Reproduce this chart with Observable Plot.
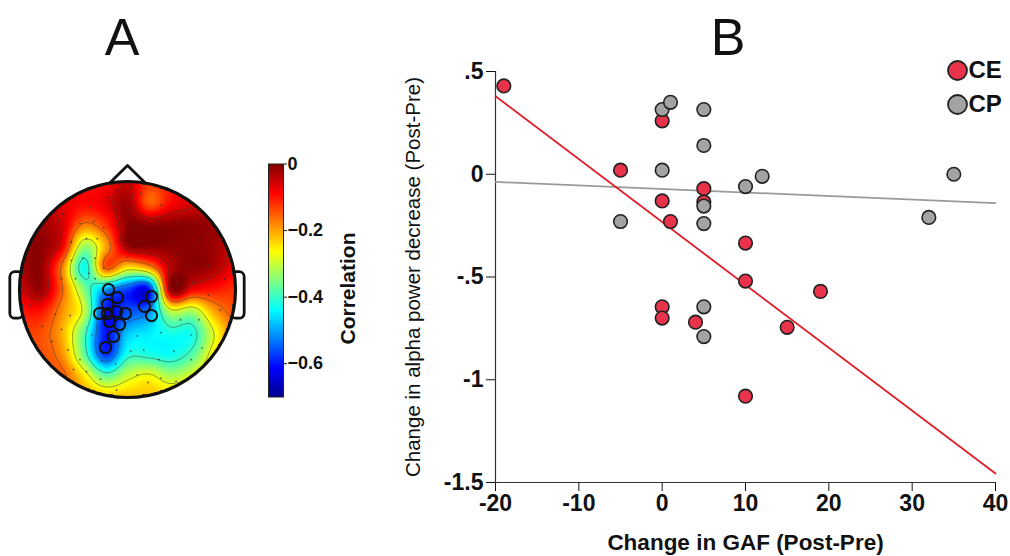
<!DOCTYPE html>
<html><head><meta charset="utf-8">
<script src="https://cdn.jsdelivr.net/npm/d3@7"></script>
<script src="https://cdn.jsdelivr.net/npm/@observablehq/plot@0.6"></script>
<style>
body{margin:0;background:#fff;}
#fig{position:relative;width:1010px;height:556px;overflow:hidden;font-family:"Liberation Sans",Arial,Helvetica,sans-serif;color:#111;}
.panel{position:absolute;}
.panel svg{overflow:visible;}
.tag{position:absolute;width:100px;text-align:center;font-size:52px;line-height:1;}
</style></head><body><div id="fig"></div>
<script>
// ---------- Panel B data ----------
const groups = ["CE", "CP"];
const ceGAF   = [-19, 0, -5, 5, 0, 5, 1, 10, 10, 19, 0, 0, 4, 15, 10];
const ceAlpha = [0.43, 0.26, 0.02, -0.07, -0.13, -0.135, -0.23, -0.335, -0.52, -0.57, -0.645, -0.70, -0.72, -0.745, -1.08];
const cpGAF   = [0, 1, 5, 5, 0, 5, 10, 12, -5, 5, 5, 5, 35, 32];
const cpAlpha = [0.315, 0.35, 0.315, 0.14, 0.02, -0.155, -0.06, -0.01, -0.23, -0.24, -0.645, -0.79, 0.0, -0.21];
const xDomain = [-20, 40];
const yDomain = [-1.5, 0.5];
const xTicks = [-20, -10, 0, 10, 20, 30, 40];
const yTicks = [-1.5, -1, -0.5, 0, 0.5];

// ---------- Panel A data (correlation map sampled on an 11x11 grid, rows top->bottom, cols left->right) ----------
const topoRows = [
 [-0.08,-0.08,-0.08,-0.10,-0.09,-0.05,-0.12,-0.10,-0.08,-0.07,-0.07],
 [-0.05,-0.05,-0.07,-0.09,-0.07,-0.02,-0.15,-0.09,-0.06,-0.05,-0.05],
 [-0.02,-0.02,-0.06,-0.17,-0.12,-0.01,-0.01,-0.01,-0.01,-0.02,-0.05],
 [-0.02,-0.01,-0.08,-0.33,-0.20,-0.02,-0.005,-0.01,-0.01,-0.02,-0.06],
 [-0.03,-0.015,-0.18,-0.43,-0.15,-0.25,-0.20,-0.04,-0.01,-0.03,-0.08],
 [-0.06,-0.02,-0.16,-0.35,-0.50,-0.57,-0.60,-0.02,-0.08,-0.10,-0.12],
 [-0.10,-0.10,-0.19,-0.30,-0.60,-0.56,-0.52,-0.30,-0.32,-0.20,-0.14],
 [-0.13,-0.14,-0.21,-0.38,-0.60,-0.48,-0.45,-0.42,-0.42,-0.28,-0.17],
 [-0.14,-0.14,-0.19,-0.37,-0.58,-0.42,-0.42,-0.43,-0.38,-0.25,-0.17],
 [-0.15,-0.15,-0.15,-0.25,-0.37,-0.30,-0.27,-0.32,-0.28,-0.20,-0.17],
 [-0.17,-0.17,-0.17,-0.20,-0.22,-0.22,-0.22,-0.22,-0.20,-0.17,-0.17]
];
const contourLevels = [-0.52, -0.40, -0.28, -0.16, -0.05];
const colorTicks = [0, -0.2, -0.4, -0.6];
const colorDomain = [-0.7, 0];
// electrode positions (head units, nose up)
const elecU = [-0.18,-0.34,-0.44,-0.31,-0.22,-0.38,-0.28,-0.52,-0.41,-0.52,-0.30,-0.22,-0.61,-0.36,-0.48,-0.30,
  0.12,0.31,0.11,0.28,0.15,0.60,0.90,
  -0.67,-0.53,-0.79,-0.61,-0.33,-0.70,-0.55,-0.44,-0.24,-0.11,-0.50,-0.38,-0.25,-0.10,
  0.09,0.31,0.49,0.66,0.86,0.03,0.15,0.43,0.59,0.69,0.29,0.59,0.09,0.31,0.19,
  0.48,0.66,0.45,0.75,0.30,0.00,0.02,-0.80,-0.80,-0.90,0.45,0.75,0.45,-0.60,0.70];
const elecV = [0.85,0.76,0.61,0.63,0.57,0.47,0.47,0.44,0.29,0.27,0.29,0.20,0.10,0.15,0.10,0.10,
  0.89,0.78,0.65,0.64,0.46,0.07,0.10,
  -0.23,-0.24,-0.34,-0.37,-0.42,-0.48,-0.56,-0.65,-0.66,-0.69,-0.74,-0.76,-0.83,-0.93,
  -0.43,-0.40,-0.28,-0.28,-0.19,-0.57,-0.56,-0.57,-0.42,-0.54,-0.65,-0.65,-0.79,-0.82,-0.86,
  0.62,0.46,0.33,0.22,0.25,0.30,0.75,0.25,-0.05,-0.15,0.05,-0.05,-0.85,0.70,0.65];
// significant electrodes (circled)
const sigU = [-0.176,-0.093,-0.185,-0.259,-0.185,-0.102,-0.019,-0.167,-0.074,-0.130,-0.204,0.222,0.157,0.222];
const sigV = [0.0,-0.074,-0.139,-0.222,-0.222,-0.204,-0.222,-0.296,-0.324,-0.435,-0.537,-0.065,-0.157,-0.241];
// head outline parts
const noseU = [-0.16, 0, 0.16];
const noseV = [0.99, 1.148, 0.99];
const earX1 = [-1.085, 0.965];
const earX2 = [-0.965, 1.085];
const earY1 = [-0.27, -0.27];
const earY2 = [0.16, 0.16];

// ---------- helpers ----------
const FONT = '"Liberation Sans", Arial, Helvetica, sans-serif';
const RED = "#e8334a", GRAY = "#a3a3a3";
const LINE_RED = "#e11d2b", LINE_GRAY = "#9a9a9a";

function cubic(p0, p1, p2, p3, t) {
  return p1 + 0.5 * t * (p2 - p0 + t * (2 * p0 - 5 * p1 + 4 * p2 - p3 + t * (3 * (p1 - p2) + p3 - p0)));
}
function topo(u, v) {
  const n = topoRows.length;
  const gx = (u + 1) / 2 * (n - 1), gy = (1 - v) / 2 * (n - 1);
  const ix = Math.floor(gx), iy = Math.floor(gy);
  const tx = gx - ix, ty = gy - iy;
  const g = (r, c) => topoRows[Math.max(0, Math.min(n - 1, r))][Math.max(0, Math.min(n - 1, c))];
  const col = [];
  for (let k = -1; k <= 2; k++) col.push(cubic(g(iy + k, ix - 1), g(iy + k, ix), g(iy + k, ix + 1), g(iy + k, ix + 2), tx));
  return cubic(col[0], col[1], col[2], col[3], ty);
}
const inside = (u, v) => u * u + v * v <= 1;

const jetStops = [0, 0.125, 0.375, 0.625, 0.875, 1];
const jetColors = ["#00008f", "#0000ff", "#00ffff", "#ffff00", "#ff0000", "#800000"];
const colorOpts = () => ({
  type: "linear",
  domain: jetStops.map(t => colorDomain[0] + t * (colorDomain[1] - colorDomain[0])),
  range: jetColors,
  clamp: true
});

function fit(xs, ys) {
  const mx = d3.mean(xs), my = d3.mean(ys);
  let sxy = 0, sxx = 0;
  xs.forEach((x, i) => { sxy += (x - mx) * (ys[i] - my); sxx += (x - mx) ** 2; });
  const b = sxy / sxx;
  return x => my + b * (x - mx);
}

const fig = document.getElementById("fig");
function place(node, left, top) {
  const d = document.createElement("div");
  d.className = "panel"; d.style.left = left + "px"; d.style.top = top + "px";
  d.appendChild(node); fig.appendChild(d);
}
function tag(txt, left, top) {
  const d = document.createElement("div");
  d.className = "tag"; d.style.left = left + "px"; d.style.top = top + "px";
  d.textContent = txt; fig.appendChild(d);
}

// ---------- Panel A: topographic map ----------
const hW = 260, hH = 260, hML = 19, hMR = 25, hMT = 31, hMB = 13;
const headR = (hW - hML - hMR) / 2;
const elec = elecU.map((u, i) => ({u, v: elecV[i]}));
const sig = sigU.map((u, i) => ({u, v: sigV[i]}));
const nose = noseU.map((u, i) => ({u, v: noseV[i]}));
const ears = earX1.map((x1, i) => ({x1, x2: earX2[i], y1: earY1[i], y2: earY2[i]}));

const headPlot = Plot.plot({
  width: hW, height: hH,
  marginLeft: hML, marginRight: hMR, marginTop: hMT, marginBottom: hMB,
  x: {domain: [-1, 1], axis: null},
  y: {domain: [-1, 1], axis: null},
  color: colorOpts(),
  style: {background: "transparent", fontFamily: FONT},
  marks: [
    Plot.rect(ears, {x1: "x1", x2: "x2", y1: "y1", y2: "y2", rx: 5, fill: "white", stroke: "#111", strokeWidth: 2.8}),
    Plot.line(nose, {x: "u", y: "v", stroke: "#111", strokeWidth: 2.8, strokeLinejoin: "round"}),
    Plot.raster({x1: -1, x2: 1, y1: -1, y2: 1, pixelSize: 1,
      fill: (u, v) => inside(u, v) ? topo(u, v) : NaN,
      fillOpacity: (u, v) => inside(u, v) ? 1 : 0}),
    Plot.contour({x1: -1, x2: 1, y1: -1, y2: 1,
      value: (u, v) => inside(u, v) ? topo(u, v) : NaN,
      thresholds: contourLevels, fill: "none", stroke: "#3a3a3a", strokeWidth: 0.7, strokeOpacity: 0.7}),
    Plot.dot(elec, {x: "u", y: "v", r: 0.9, fill: "#333", fillOpacity: 0.75}),
    Plot.dot(sig, {x: "u", y: "v", r: 5.6, fill: "none", stroke: "#111", strokeWidth: 2}),
    Plot.dot([0], {x: () => 0, y: () => 0, r: headR, fill: "none", stroke: "#111", strokeWidth: 3.2})
  ]
});
place(headPlot, 0, 150);

// ---------- Panel A: colorbar ----------
const cbPlot = Plot.plot({
  width: 130, height: 270,
  marginLeft: 18, marginRight: 97, marginTop: 13.5, marginBottom: 23.5,
  x: {domain: [0, 1], axis: null},
  y: {domain: colorDomain, axis: "right", ticks: colorTicks, tickSize: 3, tickPadding: 1,
      tickFormat: d => d === 0 ? "0" : "\u2212" + Math.abs(d).toFixed(1), label: null},
  color: colorOpts(),
  style: {background: "transparent", fontFamily: FONT, fontSize: "18px", fontWeight: "bold", color: "#111"},
  marks: [
    Plot.raster({x1: 0, x2: 1, y1: colorDomain[0], y2: colorDomain[1], pixelSize: 1, fill: (x, y) => y}),
    Plot.frame({stroke: "#222", strokeWidth: 1}),
    Plot.text(["Correlation"], {frameAnchor: "right", dx: 65, dy: 8, rotate: -90, text: d => d,
      textAnchor: "middle", lineAnchor: "middle", fontSize: 21, fontWeight: "bold", fill: "#111"})
  ]
});
place(cbPlot, 250, 150);

// ---------- Panel B: scatter ----------
const pts = [
  ...ceGAF.map((x, i) => ({x, y: ceAlpha[i], g: groups[0]})),
  ...cpGAF.map((x, i) => ({x, y: cpAlpha[i], g: groups[1]}))
];
const fCE = fit(ceGAF, ceAlpha), fCP = fit(cpGAF, cpAlpha);
const lineCE = xDomain.map(x => ({x, y: fCE(x)}));
const lineCP = xDomain.map(x => ({x, y: fCP(x)}));
const fmtY = d => d === 0 ? "0" : (d < 0 ? "-" : "") + String(Math.abs(d)).replace(/^0\./, ".");
const fmtX = d => String(d);

const scatter = Plot.plot({
  width: 630, height: 506,
  marginLeft: 115, marginRight: 15, marginTop: 21, marginBottom: 74,
  x: {domain: xDomain, ticks: xTicks, tickSize: 9, tickPadding: 3, tickFormat: fmtX, label: null},
  y: {domain: yDomain, ticks: yTicks, tickSize: 9, tickPadding: 3, tickFormat: fmtY, label: null},
  color: {domain: groups, range: [RED, GRAY]},
  style: {background: "transparent", fontFamily: FONT, fontSize: "23px", fontWeight: "bold", color: "#111"},
  marks: [
    Plot.ruleX([xDomain[0]], {stroke: "#333", strokeWidth: 1.2}),
    Plot.ruleY([yDomain[0]], {stroke: "#333", strokeWidth: 1.2}),
    Plot.line(lineCP, {x: "x", y: "y", stroke: LINE_GRAY, strokeWidth: 1.8}),
    Plot.line(lineCE, {x: "x", y: "y", stroke: LINE_RED, strokeWidth: 1.8}),
    Plot.dot(pts.filter(d => d.g === groups[0]), {x: "x", y: "y", r: 6.8, fill: "g", stroke: "#222", strokeWidth: 1.6}),
    Plot.dot(pts.filter(d => d.g === groups[1]), {x: "x", y: "y", r: 6.8, fill: "g", stroke: "#222", strokeWidth: 1.6}),
    Plot.dot([groups[0]], {frameAnchor: "top-right", dx: -38, dy: -1, r: 9.5, fill: d => d, stroke: "#222", strokeWidth: 1.8}),
    Plot.dot([groups[1]], {frameAnchor: "top-right", dx: -38, dy: 33, r: 9.5, fill: d => d, stroke: "#222", strokeWidth: 1.8}),
    Plot.text([groups[0]], {frameAnchor: "top-right", dx: -27, dy: -1, text: d => d, textAnchor: "start", lineAnchor: "middle", fontSize: 24, fontWeight: "bold", fill: "#111"}),
    Plot.text([groups[1]], {frameAnchor: "top-right", dx: -27, dy: 33, text: d => d, textAnchor: "start", lineAnchor: "middle", fontSize: 24, fontWeight: "bold", fill: "#111"}),
    Plot.text(["Change in GAF (Post-Pre)"], {frameAnchor: "bottom", dy: 60, text: d => d, textAnchor: "middle", lineAnchor: "middle", fontSize: 22.5, fontWeight: "bold", fill: "#111"}),
    Plot.text(["Change in alpha power decrease (Post-Pre)"], {frameAnchor: "left", dx: -82, rotate: -90, text: d => d, textAnchor: "middle", lineAnchor: "middle", fontSize: 20.5, fontWeight: "normal", fill: "#111"})
  ]
});
place(scatter, 380, 50);

tag("A", 72, 11);
tag("B", 678, 11);
</script>
</body></html>
